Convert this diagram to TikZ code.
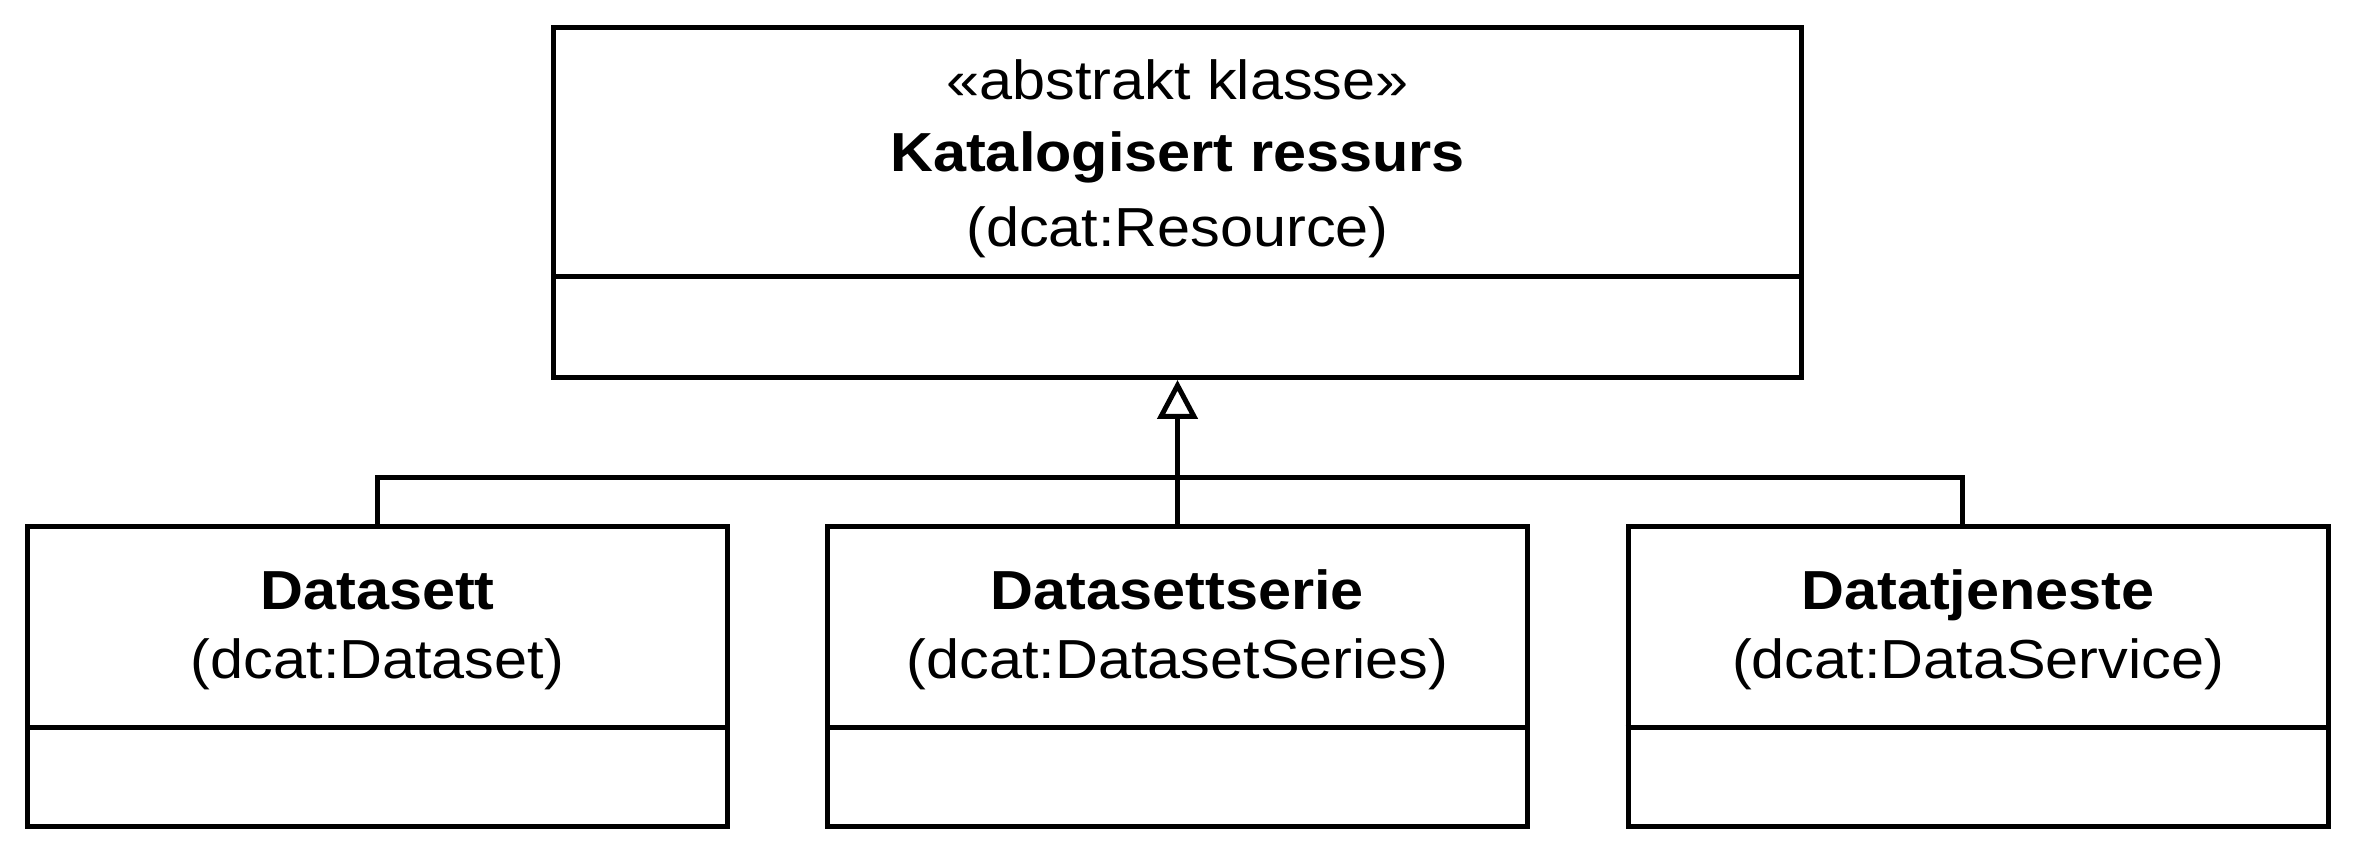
\documentclass[tikz,border=0pt]{standalone}
\usepackage{fontspec}
\setmainfont{Liberation Sans}[FakeStretch=1.08]
\usetikzlibrary{arrows.meta}
\tikzset{
  x=0.5pt, y=-0.5pt,
  every node/.style={inner sep=0pt},
  line/.style={line width=2.5pt, black},
  bigbox/.style={line, draw, rectangle, minimum width=624pt, minimum height=175pt},
  classbox/.style={line, draw, rectangle, minimum width=350pt, minimum height=150pt},
  txt/.style={anchor=base, font=\fontsize{27.5pt}{33pt}\selectfont},
  btxt/.style={txt, font=\fontsize{27.5pt}{33pt}\selectfont\bfseries},
  gen/.style={line, -{Triangle[open, length=19.5pt, width=20pt]}},
}
\begin{document}
\begin{tikzpicture}
\useasboundingbox (0,0) rectangle (2355,855);
% top abstract class
\node[bigbox] (top) at (1177.5,202.5) {};
\node[txt]  (t1) at (1177.5,100) {«abstrakt klasse»};
\node[btxt] (t2) at (1177.5,172) {Katalogisert ressurs};
\node[txt]  (t3) at (1177.5,247) {(dcat:Resource)};
\draw[line] (top.west |- 0,277) -- (top.east |- 0,277);
% sub classes
\node[classbox] (dset) at (377.5,676.75) {};
\node[btxt] (d1) at (377.5,609) {Datasett};
\node[txt]  (d2) at (377.5,678) {(dcat:Dataset)};
\draw[line] (dset.west |- 0,727) -- (dset.east |- 0,727);
\node[classbox] (dser) at (1177.5,676.75) {};
\node[btxt] (s1) at (1177.5,609) {Datasettserie};
\node[txt]  (s2) at (1177.5,678) {(dcat:DatasetSeries)};
\draw[line] (dser.west |- 0,727) -- (dser.east |- 0,727);
\node[classbox] (dsrv) at (1978,676.75) {};
\node[btxt] (v1) at (1978,609) {Datatjeneste};
\node[txt]  (v2) at (1978,678) {(dcat:DataService)};
\draw[line] (dsrv.west |- 0,727) -- (dsrv.east |- 0,727);
% generalisation connectors
\coordinate (j) at (1177.5,477.5);
\coordinate (rs) at ([xshift=-8pt]dsrv.north);
\draw[gen] (dser.north) -- (top.south);
\draw[line] (dset.north) -- (dset.north |- j) -- (rs |- j) -- (rs);
\end{tikzpicture}
\end{document}
